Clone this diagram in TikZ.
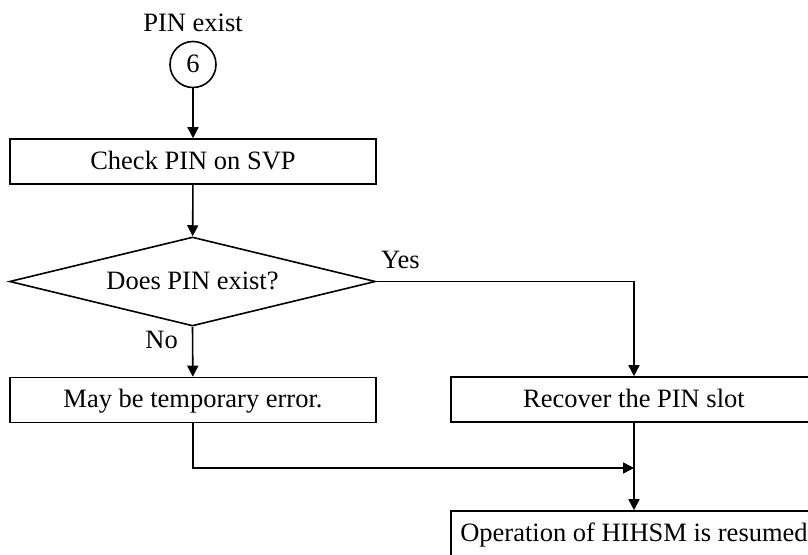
\documentclass[tikz,border=0pt]{standalone}
\usepackage{fontspec}
\setmainfont{Liberation Serif}
\usetikzlibrary{arrows.meta,positioning,shapes.geometric}
\tikzset{
  txt/.style    ={font=\fontsize{26.5}{30}\selectfont,text height=19.5pt,text depth=4.5pt},
  stepbox/.style={draw,txt,minimum width=366pt,minimum height=45pt,inner sep=0pt,line width=1.6pt},
  ask/.style    ={diamond,aspect=4.1,draw,txt,minimum width=366pt,minimum height=89pt,inner sep=0pt,line width=1.6pt},
  conn/.style   ={circle,draw,txt,minimum size=46pt,inner sep=0pt,line width=1.6pt},
  flow/.style   ={-{Triangle[length=11pt,width=11pt]},line width=1.6pt},
  lbl/.style    ={txt,inner sep=0pt},
}
\begin{document}
\begin{tikzpicture}[x=1pt,y=-1pt]
  \useasboundingbox (0,0) rectangle (808,554);
  \clip (0,0) rectangle (808,554);
  % entry connector
  \node[conn] (C6) at (193,64.5) {6};
  \node[lbl,anchor=base] (pinlbl) at (193,31) {PIN exist};
  % main column
  \node[stepbox] (check) at (193,161.5) {Check PIN on SVP};
  \node[ask] (exist) at (192.5,281.5) {Does PIN exist?};
  \node[stepbox] (tmperr) at (193,400) {May be temporary error.};
  % right column
  \node[stepbox] (recover) at (634,399.5) {Recover the PIN slot};
  \node[stepbox] (resume) at (634,533.5) {Operation of HIHSM is resumed};
  \coordinate (merge) at (634,468);
  % branch labels
  \node[lbl,anchor=base west] (yes) at (381,268) {Yes};
  \node[lbl,anchor=base east] (no) at (178,348) {No};
  % connectors
  \draw[flow] (C6) -- (check);
  \draw[flow] (check) -- (exist);
  \draw[flow] (exist.south) -- (tmperr);
  \draw[flow] (exist.east) -| (recover);
  \draw[flow] (recover) -- (resume);
  \draw[flow] (tmperr.south) |- (merge);
\end{tikzpicture}
\end{document}
